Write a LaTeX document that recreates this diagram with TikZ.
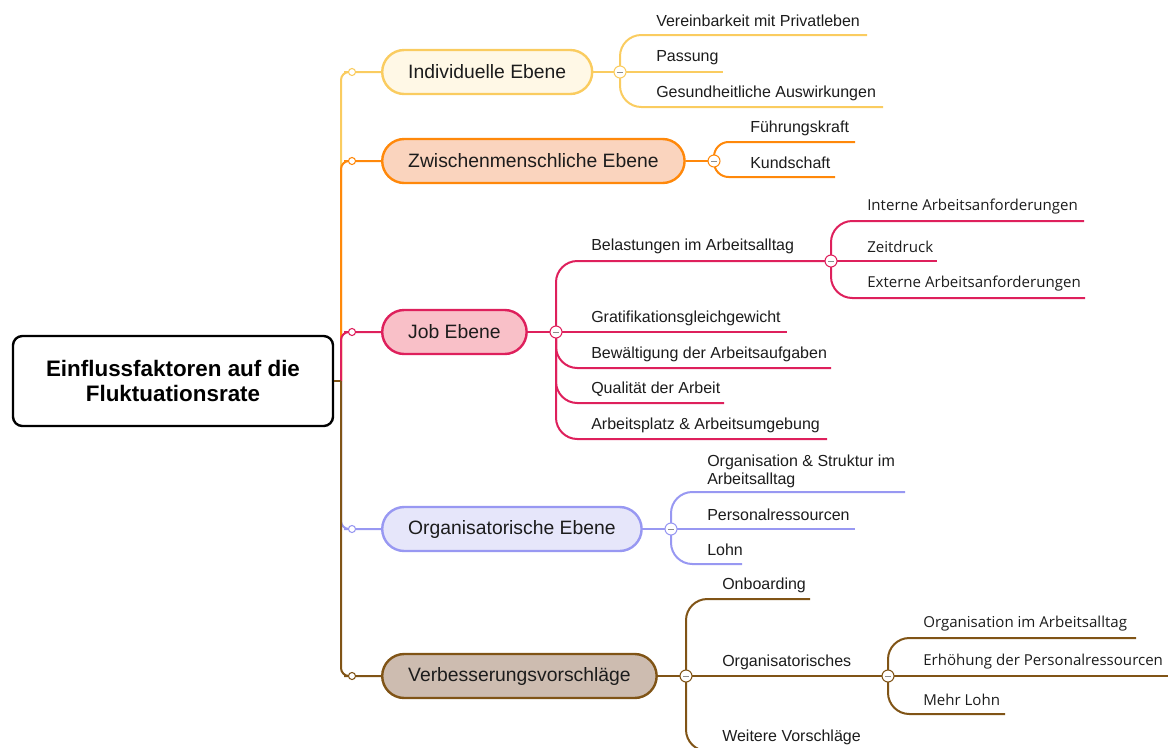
\documentclass[tikz,border=0pt]{standalone}
\usepackage{fontspec}
\setmainfont{Liberation Sans}
\newfontfamily\segoe{Open Sans}
\usetikzlibrary{positioning}
\definecolor{textc}{RGB}{28,28,28}
\definecolor{yelline}{RGB}{250,204,96}
\definecolor{yelfill}{RGB}{255,248,230}
\definecolor{orgline}{RGB}{255,136,10}
\definecolor{orgfill}{RGB}{250,212,190}
\definecolor{redline}{RGB}{222,32,92}
\definecolor{redfill}{RGB}{249,192,200}
\definecolor{bluline}{RGB}{152,152,242}
\definecolor{blufill}{RGB}{230,230,250}
\definecolor{brnline}{RGB}{128,84,22}
\definecolor{brnfill}{RGB}{205,188,176}
\tikzset{
  mainbox/.style={draw=black, line width=1.8pt, rounded corners=7pt, minimum width=240pt,
    minimum height=67.5pt, align=center, text=black, font=\bfseries\fontsize{16.8}{18.8}\selectfont},
  ebene/.style={draw=#1line, fill=#1fill, line width=1.8pt, rounded corners=16.5pt, anchor=west,
    minimum height=33pt, inner xsep=19.5pt, text=textc, font=\fontsize{14.5}{16}\selectfont},
  stem/.style={draw=#1, line width=1.5pt, rounded corners=6pt},
  twig/.style={draw=#1, line width=1.5pt, rounded corners=16pt},
  punkt/.style={circle, draw=#1, fill=white, line width=0.8pt, minimum size=5.3pt, inner sep=0pt},
  fold/.style={circle, draw=#1, fill=white, line width=0.8pt, minimum size=9pt, inner sep=0pt,
    path picture={\draw[black!45, line width=0.7pt] ([xshift=-2.2pt]path picture bounding box.center)
      -- ([xshift=2.2pt]path picture bounding box.center);}},
  leaf/.style={anchor=west, inner sep=0pt, align=left, text=textc, font=\fontsize{12}{13.5}\selectfont},
  subleaf/.style={anchor=west, inner sep=0pt, text=textc, font=\segoe\fontsize{11.3}{13}\selectfont}
}

\begin{document}
\begin{tikzpicture}[x=0.75pt, y=-0.75pt]
  \useasboundingbox (0,0) rectangle (1168,747);
  \node[mainbox] (root) at (173,381) {Einflussfaktoren auf die\\Fluktuationsrate};
  \coordinate (hub) at (341,381);
  % main branches
  \foreach \n/\y/\col/\t in {Ind/72/yel/Individuelle Ebene, Zwi/161/org/Zwischenmenschliche Ebene,
      Job/332/red/Job Ebene, Org/529/blu/Organisatorische Ebene, Ver/676/brn/Verbesserungsvorschläge}{
    \node[ebene=\col] (n\n) at (381,\y) {\t};
    \coordinate (d\n) at (352,\y);
    \draw[stem=\col line] (hub) |- (d\n) -- (n\n.west);
    \node[punkt=\col line] at (d\n) {};
  }
  \draw[stem=brnline] (root.east) -- (hub);

  % Individuelle Ebene
  \coordinate (jInd) at (620,72);
  \draw[stem=yelline] (nInd.east) -- (jInd);
  \foreach \n/\y/\e/\t in {1/21/867/Vereinbarkeit mit Privatleben, 2/58/723/Passung,
      3/93/883/Gesundheitliche Auswirkungen}{
    \node[leaf] (ind\n) at (656,\y) {\t};
    \coordinate (ind\n e) at (\e,\y+14);
  }
  \draw[twig=yelline] (jInd) |- (ind1e);
  \draw[twig=yelline] (jInd) -- (ind2e);
  \draw[twig=yelline] (jInd) |- (ind3e);
  \node[fold=yelline] at (jInd) {};

  % Zwischenmenschliche Ebene
  \coordinate (jZwi) at (714,161);
  \draw[stem=orgline] (nZwi.east) -- (jZwi);
  \foreach \n/\y/\e/\t in {1/128/855/Führungskraft, 2/163/835/Kundschaft}{
    \node[leaf] (zwi\n) at (750,\y) {\t};
    \coordinate (zwi\n e) at (\e,\y+14);
    \draw[twig=orgline, rounded corners=11pt] (jZwi) |- (zwi\n e);
  }
  \node[fold=orgline] at (jZwi) {};

  % Job Ebene
  \coordinate (jJob) at (556,332);
  \coordinate (jBel) at (831,261);
  \draw[stem=redline] (nJob.east) -- (jJob);
  \node[leaf] (job1) at (591,246) {Belastungen im Arbeitsalltag};
  \foreach \n/\y/\e/\t in {2/318/787/Gratifikationsgleichgewicht, 3/354/831/Bewältigung der Arbeitsaufgaben,
      4/389/724/Qualität der Arbeit, 5/425/827/Arbeitsplatz \& Arbeitsumgebung}{
    \node[leaf] (job\n) at (591,\y) {\t};
    \coordinate (job\n e) at (\e,\y+14);
  }
  \draw[twig=redline] (jJob) |- (jBel);
  \draw[twig=redline] (jJob) -- (job2e);
  \foreach \n in {3,4,5}{\draw[twig=redline] (jJob) |- (job\n e);}
  \foreach \n/\y/\e/\t in {1/207/1084/Interne Arbeitsanforderungen, 2/247/937/Zeitdruck,
      3/284/1085/Externe Arbeitsanforderungen}{
    \node[subleaf] (bel\n) at (867,\y) {\t};
    \coordinate (bel\n e) at (\e,\y+14);
  }
  \draw[twig=redline] (jBel) |- (bel1e);
  \draw[twig=redline] (jBel) -- (bel2e);
  \draw[twig=redline] (jBel) |- (bel3e);
  \node[fold=redline] at (jJob) {};
  \node[fold=redline] at (jBel) {};

  % Organisatorische Ebene
  \coordinate (jOrg) at (671,529);
  \draw[stem=bluline] (nOrg.east) -- (jOrg);
  \node[leaf] (org1) at (707,471) {Organisation \& Struktur im\\Arbeitsalltag};
  \coordinate (org1e) at (905,492);
  \foreach \n/\y/\e/\t in {2/515/855/Personalressourcen, 3/550/742/Lohn}{
    \node[leaf] (org\n) at (707,\y) {\t};
    \coordinate (org\n e) at (\e,\y+14);
  }
  \draw[twig=bluline] (jOrg) |- (org1e);
  \draw[twig=bluline] (jOrg) -- (org2e);
  \draw[twig=bluline] (jOrg) |- (org3e);
  \node[fold=bluline] at (jOrg) {};

  % Verbesserungsvorschlaege
  \coordinate (jVer) at (686,676);
  \coordinate (jOrs) at (888,676);
  \draw[stem=brnline] (nVer.east) -- (jVer);
  \foreach \n/\y/\e/\t in {1/585/810/Onboarding, 2/662/888/Organisatorisches, 3/737/870/Weitere Vorschläge}{
    \node[leaf] (ver\n) at (722,\y) {\t};
    \coordinate (ver\n e) at (\e,\y+14);
  }
  \draw[twig=brnline] (jVer) |- (ver1e);
  \draw[twig=brnline] (jVer) -- (jOrs);
  \draw[twig=brnline] (jVer) |- (ver3e);
  \foreach \n/\y/\e/\t in {1/624/1136/Organisation im Arbeitsalltag, 2/662/1170/Erhöhung der Personalressourcen,
      3/700/1005/Mehr Lohn}{
    \node[subleaf] (ors\n) at (923,\y) {\t};
    \coordinate (ors\n e) at (\e,\y+14);
  }
  \draw[twig=brnline] (jOrs) |- (ors1e);
  \draw[twig=brnline] (jOrs) -- (ors2e);
  \draw[twig=brnline] (jOrs) |- (ors3e);
  \node[fold=brnline] at (jVer) {};
  \node[fold=brnline] at (jOrs) {};
\end{tikzpicture}
\end{document}
